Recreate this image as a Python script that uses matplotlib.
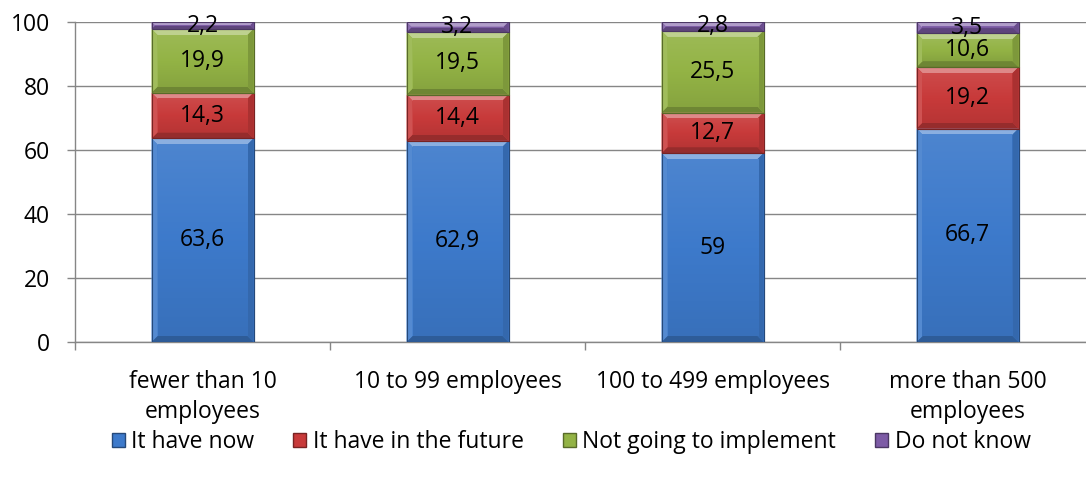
import matplotlib
matplotlib.use("Agg")
import matplotlib.pyplot as plt
from matplotlib.patches import Polygon, Rectangle
from matplotlib.colors import to_rgb
import numpy as np

plt.rcParams['font.family'] = ['Open Sans', 'DejaVu Sans']

categories = ["fewer than 10\nemployees", "10 to 99 employees",
              "100 to 499 employees", "more than 500\nemployees"]
series_names = ["It have now", "It have in the future",
                "Not going to implement", "Do not know"]
have_now = [63.6, 62.9, 59, 66.7]
have_future = [14.3, 14.4, 12.7, 19.2]
not_going = [19.9, 19.5, 25.5, 10.6]
do_not_know = [2.2, 3.2, 2.8, 3.5]
yticks = [0, 20, 40, 60, 80, 100]

series = [have_now, have_future, not_going, do_not_know]
colors = ["#3d7acb", "#c83a3a", "#93b345", "#7d5ba6"]

FS = 16.5
W, H = 1086, 483
fig = plt.figure(figsize=(W / 100, H / 100), dpi=100)
ax = fig.add_axes([75 / W, 141 / H, 1020 / W, 320 / H])

x = np.arange(len(categories))
width = 0.40
grid_c = "#868686"


def shade(c, f):
    r = np.array(to_rgb(c))
    if f >= 0:
        return tuple(r + (1 - r) * f)
    return tuple(r * (1 + f))


bottoms = np.zeros(len(categories))
all_bars = []
for vals, col, name in zip(series, colors, series_names):
    bars = ax.bar(x, vals, width, bottom=bottoms, color=col, label=name,
                  edgecolor=shade(col, -0.35), linewidth=0.8, zorder=3)
    all_bars.append((bars, col, vals))
    bottoms = bottoms + np.array(vals)

ax.set_xlim(-0.5, len(categories) - 0.5)
ax.set_ylim(0, 100)
fig.canvas.draw()

# bevelled faces on each segment, bevel sized in pixels
inv = ax.transData.inverted()
px = 6
for bars, col, vals in all_bars:
    for b, v in zip(bars, vals):
        x0, y0 = b.get_x(), b.get_y()
        x1, y1 = x0 + b.get_width(), y0 + b.get_height()
        (dx0, dy0) = ax.transData.transform((x0, y0))
        (dx1, dy1) = ax.transData.transform((x1, y1))
        bp = min(px, (dy1 - dy0) / 2.2)
        pts_o = [(dx0, dy0), (dx1, dy0), (dx1, dy1), (dx0, dy1)]
        pts_i = [(dx0 + bp, dy0 + bp), (dx1 - bp, dy0 + bp),
                 (dx1 - bp, dy1 - bp), (dx0 + bp, dy1 - bp)]
        faces = [
            ([pts_o[3], pts_o[2], pts_i[2], pts_i[3]], 0.4),    # top
            ([pts_o[0], pts_o[1], pts_i[1], pts_i[0]], -0.25),  # bottom
            ([pts_o[0], pts_o[3], pts_i[3], pts_i[0]], 0.12),   # left
            ([pts_o[1], pts_o[2], pts_i[2], pts_i[1]], -0.15),  # right
        ]
        for poly, f in faces:
            ax.add_patch(Polygon(inv.transform(poly), closed=True,
                                 facecolor=shade(col, f), edgecolor="none",
                                 zorder=4))
        # soft vertical shading on the front face
        grad = np.linspace(0.08, -0.08, 64)
        img = np.array([[shade(col, g) for _ in range(2)] for g in grad])
        ex0 = inv.transform((dx0 + bp, 0))[0]
        ex1 = inv.transform((dx1 - bp, 0))[0]
        ey0 = inv.transform((0, dy0 + bp))[1]
        ey1 = inv.transform((0, dy1 - bp))[1]
        ax.imshow(img, extent=(ex0, ex1, ey0, ey1), aspect="auto",
                  origin="upper", zorder=4, interpolation="bilinear")
        ax.add_patch(Rectangle((x0, y0), x1 - x0, y1 - y0, facecolor="none",
                               edgecolor=shade(col, -0.4), linewidth=0.8,
                               zorder=5))

# value labels
bottoms = np.zeros(len(categories))
for vals in series:
    for i, v in enumerate(vals):
        txt = (f"{v:g}").replace(".", ",")
        ax.text(x[i], bottoms[i] + v / 2, txt, ha="center", va="center",
                fontsize=FS, color="black", zorder=6)
    bottoms = bottoms + np.array(vals)

ax.set_xlim(-0.5, len(categories) - 0.5)
ax.set_ylim(0, 100)
ax.set_yticks(yticks)
ax.set_yticklabels([str(t) for t in yticks], fontsize=FS)
ax.yaxis.grid(True, color=grid_c, linewidth=1.0, zorder=0)
ax.set_axisbelow(True)

ax.set_xticks(np.arange(len(categories) + 1) - 0.5)
ax.set_xticklabels([])
ax.set_xticks(x, minor=True)
ax.set_xticklabels(categories, minor=True, fontsize=FS, linespacing=1.35)
ax.tick_params(axis="x", which="minor", length=0, pad=20)
ax.tick_params(axis="x", which="major", length=6, color=grid_c, width=1)
ax.tick_params(axis="y", length=6, color=grid_c, width=1, pad=12)

for s in ["top", "right"]:
    ax.spines[s].set_visible(False)
for s in ["left", "bottom"]:
    ax.spines[s].set_color(grid_c)
    ax.spines[s].set_linewidth(1.0)

handles = [Rectangle((0, 0), 1, 1, facecolor=c, edgecolor=shade(c, -0.4))
           for c in colors]
fig.legend(handles, series_names, loc="center", bbox_to_anchor=(0.526, 0.085),
           ncol=4, frameon=False, fontsize=FS, handlelength=0.55,
           handleheight=0.55, handletextpad=0.3, columnspacing=1.7)

fig.savefig("out.png", dpi=100)
